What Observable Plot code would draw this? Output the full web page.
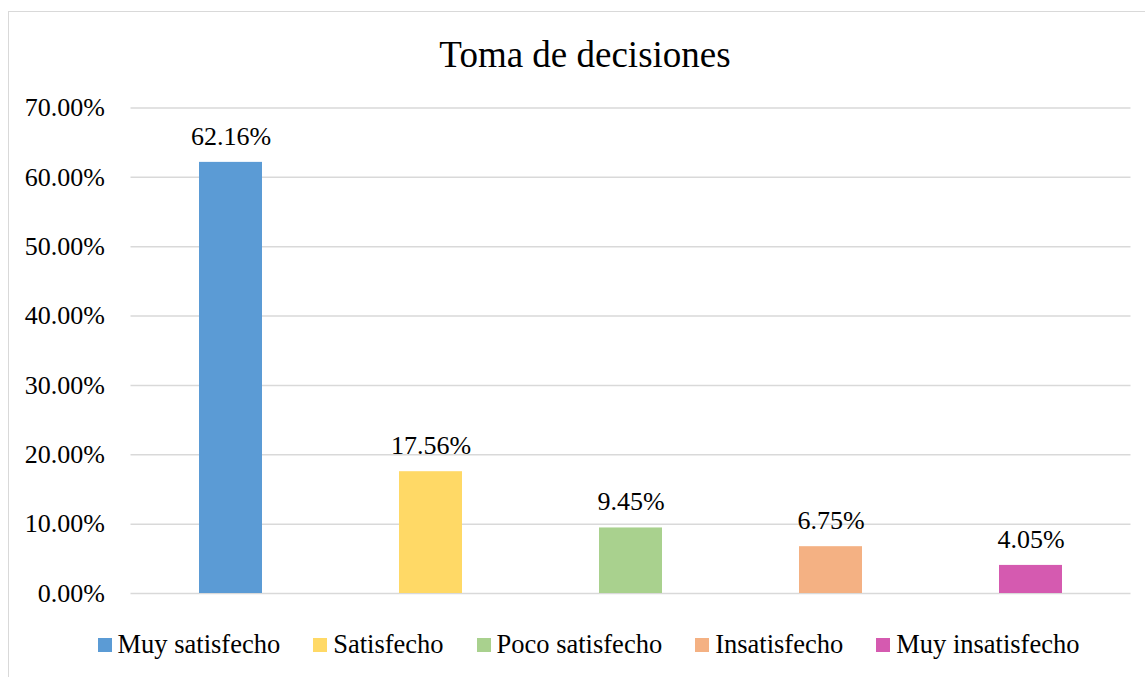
<!DOCTYPE html>
<html>
<head>
<meta charset="utf-8">
<script src="https://cdn.jsdelivr.net/npm/d3@7"></script>
<script src="https://cdn.jsdelivr.net/npm/@observablehq/plot@0.6"></script>
<style>
  html, body { margin: 0; padding: 0; background: #fff; }
  #wrap { position: relative; width: 1145px; height: 677px; overflow: hidden; font-family: "Liberation Serif", serif !important; color: #000; }
  #wrap * { font-family: "Liberation Serif", serif !important; }
  #frame { position: absolute; left: 8px; top: 11px; width: 1300px; height: 800px; border-left: 1.5px solid #d9d9d9; border-top: 1.5px solid #d9d9d9; }
  #title { position: absolute; left: 0; top: 36px; width: 1145px; padding-left: 25px; box-sizing: border-box; text-align: center; font-size: 37px; line-height: 37px; }
  #chart { position: absolute; left: 0; top: 90px; }
  #legend { position: absolute; left: 0; top: 631px; width: 1145px; padding-left: 32px; box-sizing: border-box; display: flex; justify-content: center; font-size: 26.5px; line-height: 26px; }
  .item { display: flex; align-items: center; margin: 0 16.5px; }
  .sw { width: 14px; height: 14px; margin-right: 6px; margin-top: 1px; }
</style>
</head>
<body>
<div id="wrap">
  <div id="frame"></div>
  <div id="title">Toma de decisiones</div>
  <div id="chart"></div>
  <div id="legend"></div>
</div>
<script>
const categories = ["Muy satisfecho", "Satisfecho", "Poco satisfecho", "Insatisfecho", "Muy insatisfecho"];
const values = [62.16, 17.56, 9.45, 6.75, 4.05];
const colors = ["#5B9BD5", "#FFD966", "#A9D18E", "#F4B183", "#D55AB0"];
const yTicks = [0, 10, 20, 30, 40, 50, 60, 70];

const data = categories.map((c, i) => ({category: c, value: values[i], color: colors[i]}));

const plot = Plot.plot({
  width: 1145,
  height: 523,
  marginTop: 17.5,
  marginBottom: 20,
  marginLeft: 130.5,
  marginRight: 14.5,
  style: {fontSize: "26px", color: "#000", background: "transparent"},
  x: {domain: categories, paddingInner: 0.685, paddingOuter: 0.3425, axis: null},
  y: {domain: [0, 70], ticks: yTicks, tickFormat: d => d.toFixed(2) + "%", tickSize: 0, tickPadding: 26, label: null},
  color: {domain: categories, range: colors},
  marks: [
    Plot.gridY(yTicks, {stroke: "#d9d9d9", strokeOpacity: 1, strokeWidth: 1.5}),
    Plot.barY(data, {x: "category", y: "value", fill: "category"}),
    Plot.text(data, {x: "category", y: "value", text: d => d.value.toFixed(2) + "%", dy: -25.8, fontSize: 26, fill: "#000"})
  ]
});
document.getElementById("chart").appendChild(plot);

const legend = document.getElementById("legend");
categories.forEach((c, i) => {
  const item = document.createElement("div");
  item.className = "item";
  const sw = document.createElement("span");
  sw.className = "sw";
  sw.style.background = colors[i];
  const label = document.createElement("span");
  label.textContent = c;
  item.appendChild(sw);
  item.appendChild(label);
  legend.appendChild(item);
});
</script>
</body>
</html>
